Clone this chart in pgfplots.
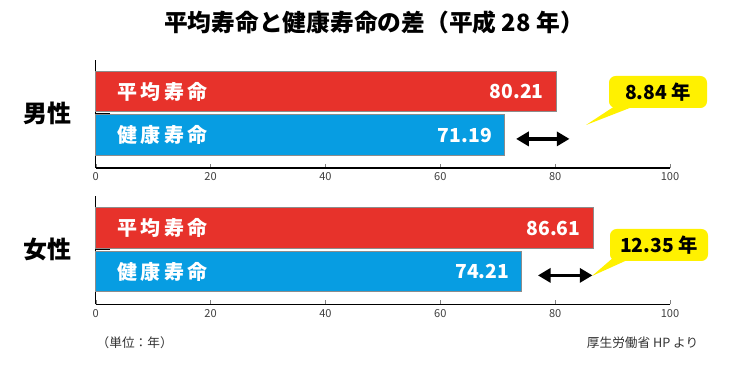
\documentclass[border=0pt]{standalone}
\usepackage{pgfplots}
\pgfplotsset{compat=1.18}
\usepackage{fontspec}
\setmainfont{Noto Sans CJK JP}
\usetikzlibrary{arrows.meta}
\definecolor{redc}{HTML}{E7322B}
\definecolor{bluec}{HTML}{079DE2}
\definecolor{yel}{HTML}{FFF100}
\newcommand{\barfont}{\fontsize{15}{15}\selectfont\bfseries\addfontfeature{LetterSpace=16}}
\newcommand{\valfont}{\fontsize{14.5}{15}\selectfont\bfseries}
\tikzset{dblarrow/.style={{Triangle[length=9.5pt,width=10.5pt]}-{Triangle[length=9.5pt,width=10.5pt]}, line width=2.8pt}}
\pgfplotsset{
  lifeaxis/.style={
    xbar, scale only axis, width=430.725pt, height=81pt,
    xmin=0, xmax=100, ymin=-0.7586, ymax=1.724,
    axis x line*=bottom, axis y line*=left,
    xtick={0,20,...,100}, ytick=\empty,
    tick align=inside, major tick length=3pt,
    bar width=0.93, bar shift=0pt,
    /pgf/number format/assume math mode=true,
    xticklabel style={font=\fontsize{8.3}{9}\selectfont, text=black!75},
    axis line style={line width=0.8pt},
    clip=false,
  },
}
\begin{document}
\begin{tikzpicture}
\fill[white] (0,0) rectangle (562.5pt,275.25pt);
% upper panel (male)
\begin{axis}[lifeaxis, at={(71.78pt,149.25pt)}, anchor=south west]
\addplot[fill=redc, draw=black!45, line width=0.6pt] coordinates {(80.21,1)};
\addplot[fill=bluec, draw=black!45, line width=0.6pt] coordinates {(71.19,0)};
\draw[line width=0.8pt] (axis cs:0,0.5) -- ++(11pt,0pt);
\node[anchor=west, text=white, font=\barfont] at (axis cs:3,1) {平均寿命};
\node[anchor=west, text=white, font=\barfont] at (axis cs:3,0) {健康寿命};
\node[anchor=east, text=white, font=\valfont, xshift=-6pt] at (axis cs:80.21,1) {80.21};
\node[anchor=east, text=white, font=\valfont, xshift=-6pt] at (axis cs:71.19,0) {71.19};
\draw[dblarrow] (axis cs:73.2,-0.09) -- (axis cs:82.5,-0.09);
\end{axis}
% lower panel (female)
\begin{axis}[lifeaxis, at={(71.78pt,46.875pt)}, anchor=south west]
\addplot[fill=redc, draw=black!45, line width=0.6pt] coordinates {(86.61,1)};
\addplot[fill=bluec, draw=black!45, line width=0.6pt] coordinates {(74.21,0)};
\draw[line width=0.8pt] (axis cs:0,0.5) -- ++(11pt,0pt);
\node[anchor=west, text=white, font=\barfont] at (axis cs:3,1) {平均寿命};
\node[anchor=west, text=white, font=\barfont] at (axis cs:3,0) {健康寿命};
\node[anchor=east, text=white, font=\valfont, xshift=-6pt] at (axis cs:86.61,1) {86.61};
\node[anchor=east, text=white, font=\valfont, xshift=-6pt] at (axis cs:74.21,0) {74.21};
\draw[dblarrow] (axis cs:77.0,-0.09) -- (axis cs:86.5,-0.09);
\end{axis}
% annotations in pixel coordinates
\begin{scope}[x=0.75pt, y=-0.75pt, shift={(0pt,275.25pt)}]
\node[font=\fontsize{17.8}{18}\selectfont\bfseries] at (374,22) {平均寿命と健康寿命の差（平成 28 年）};
\node[font=\fontsize{18}{18}\selectfont\bfseries] at (47,113) {男性};
\node[font=\fontsize{18}{18}\selectfont\bfseries] at (47,249) {女性};
\node[anchor=west, font=\fontsize{9.5}{10}\selectfont, text=black!80] at (92,343) {（単位：年）};
\node[anchor=east, font=\fontsize{9.5}{10}\selectfont, text=black!80] at (703,343) {厚生労働省 HP より};
% callout upper
\fill[yel] (586,125) -- (618,104) -- (640,104) -- cycle;
\fill[yel, rounded corners=5pt] (609,76) rectangle (707,108);
\node[font=\valfont] at (658,92) {8.84 年};
% callout lower
\fill[yel] (592,276) -- (614,257) -- (634,257) -- cycle;
\fill[yel, rounded corners=5pt] (610,229) rectangle (708,261);
\node[font=\valfont] at (659,245) {12.35 年};
\end{scope}
\end{tikzpicture}
\end{document}
